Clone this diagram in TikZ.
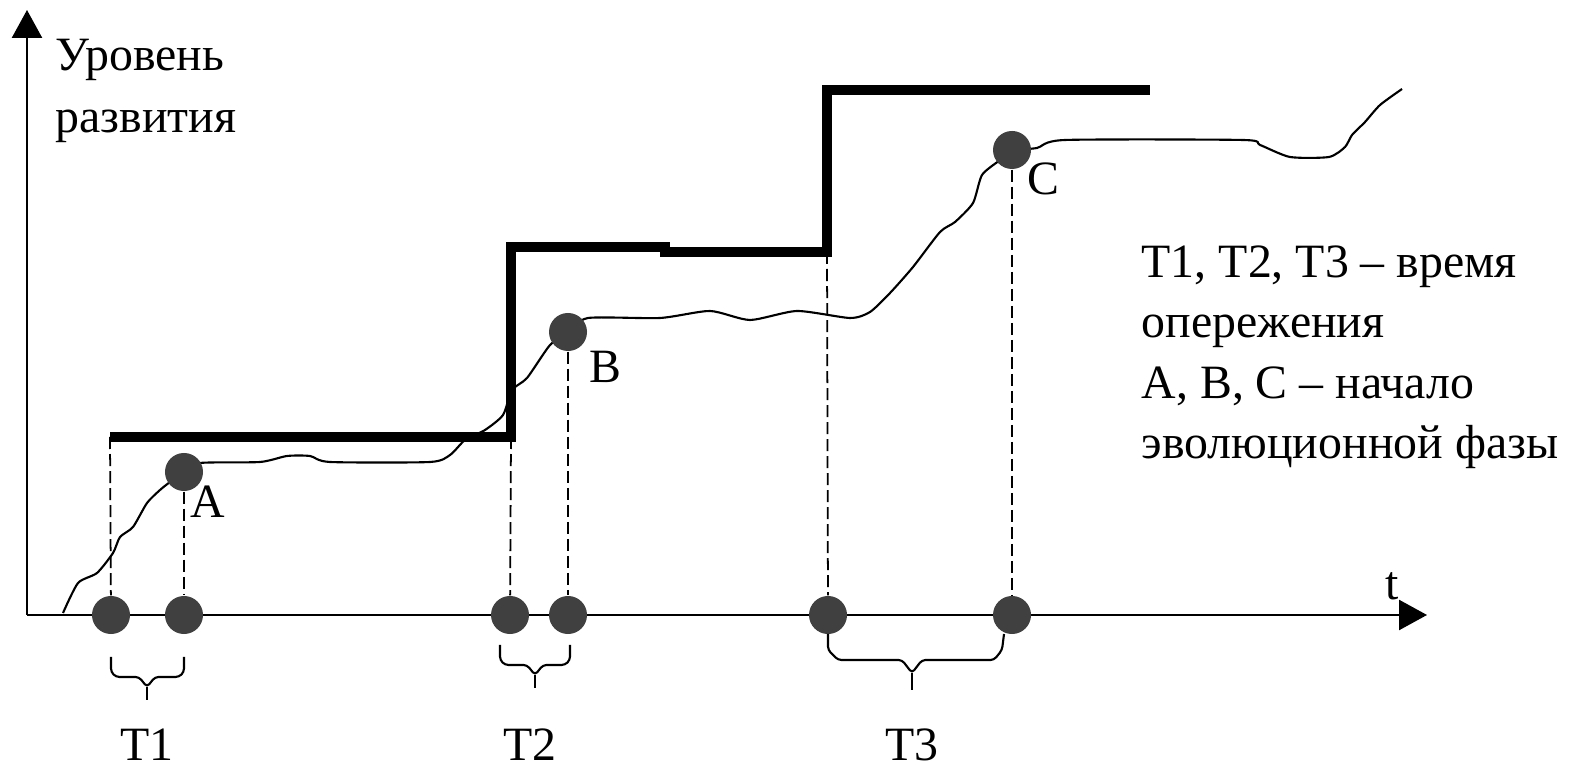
\documentclass[tikz,border=0pt]{standalone}
\usepackage{fontspec}
\setmainfont{Liberation Serif}
\usetikzlibrary{arrows.meta}
\definecolor{dotgray}{HTML}{404040}
\begin{document}
\begin{tikzpicture}[
  x=0.01cm, y=-0.01cm,
  dot/.style={circle, fill=dotgray, inner sep=0pt, minimum size=0.38cm},
  level/.style={line width=2.6pt},
  guide/.style={dash pattern=on 0.12cm off 0.05cm, line width=0.5pt},
  curve/.style={line width=0.6pt},
  bracket/.style={line width=0.6pt, rounded corners=1pt},
  axis/.style={line width=0.7pt, -{Triangle[length=0.28cm,width=0.3cm]}},
  lbl/.style={inner sep=0pt, font=\fontsize{13.6}{17.2}\selectfont}
]
\useasboundingbox (0,0) rectangle (1571,765);

% axes
\coordinate (o) at (27,615);
\coordinate (ytop) at (27,10);
\coordinate (xend) at (1427,615);
\draw[axis] (o) -- (ytop);
\draw[axis] (o) -- (xend);
\node[lbl, anchor=base] (tlab) at (1392,600) {t};
\node[lbl, anchor=north west, align=left, font=\fontsize{13.6}{17.9}\selectfont] (ylab) at (55,38) {Уровень\\развития};

% level of development (step)
\coordinate (s1) at (110,437);
\coordinate (s2) at (511,437);
\coordinate (s3) at (827,252);
\draw[level] (s1) -- (s2) -- (511,247) -- (665,247) -- (665,252) -- (s3) -- (827,90) -- (1150,90);

% actual curve
\draw[curve] plot[smooth, tension=0.4] coordinates {
  (63,613) (78,583) (97,573) (113,553) (120,537) (133,527) (147,503) (160,490) (170,482) (184,472)};
\draw[curve] plot[smooth, tension=0.4] coordinates {
  (184,472) (200,463) (260,462) (287,456) (310,456) (330,462) (430,462) (450,455) (465,440)
  (485,430) (503,415) (512,390) (527,378) (550,345) (568,332)};
\draw[curve] plot[smooth, tension=0.4] coordinates {
  (568,332) (588,318) (660,318) (710,311) (750,320) (797,311) (850,318) (870,312) (890,293)
  (913,267) (940,232) (955,222) (973,203) (982,175) (1000,160) (1012,150)};
\draw[curve] plot[smooth, tension=0.4] coordinates {
  (1012,150) (1037,148) (1065,140) (1243,140) (1260,145) (1290,157) (1329,157) (1345,147)
  (1352,135) (1365,122) (1380,105) (1402,89)};

% points
\node[dot] (a1) at (111,615) {};
\node[dot] (a2) at (184,615) {};
\node[dot] (b1) at (510,615) {};
\node[dot] (b2) at (568,615) {};
\node[dot] (c1) at (828,615) {};
\node[dot] (c2) at (1012,615) {};
\node[dot] (pA) at (184,472) {};
\node[dot] (pB) at (568,332) {};
\node[dot] (pC) at (1012,150) {};
\node[lbl, anchor=base] (lA) at (208,518) {A};
\node[lbl, anchor=base] (lB) at (605,383) {B};
\node[lbl, anchor=base] (lC) at (1043,195) {C};

% projections
\draw[guide] (s1) -- (a1);
\draw[guide] (pA) -- (a2);
\draw[guide] (s2) -- (b1);
\draw[guide] (pB) -- (b2);
\draw[guide] (s3) -- (c1);
\draw[guide] (pC) -- (c2);

% lead times
\draw[bracket] (111,657) -- (111,672) -- (116,677) -- (139,677) -- (147,687) -- (155,677) -- (179,677) -- (184,672) -- (184,657);
\draw[bracket] (147,687) -- (147,700);
\draw[bracket] (500,645) -- (500,660) -- (505,665) -- (527,665) -- (535,675) -- (543,665) -- (565,665) -- (570,660) -- (570,645);
\draw[bracket] (535,675) -- (535,688);
\draw[bracket] (828,634) -- (828,650) -- (838,660) -- (902,660) -- (912,673) -- (922,660) -- (994,660) -- (1002,650) -- (1004,634);
\draw[bracket] (912,673) -- (912,690);
\node[lbl, anchor=base] (t1) at (147,760) {T1};
\node[lbl, anchor=base] (t2) at (530,760) {T2};
\node[lbl, anchor=base] (t3) at (912,760) {T3};

% legend
\node[lbl, anchor=north west, align=left] (legend) at (1141,245) {T1, T2, T3 -- время\\опережения\\A, B, C -- начало\\эволюционной фазы};
\end{tikzpicture}
\end{document}
